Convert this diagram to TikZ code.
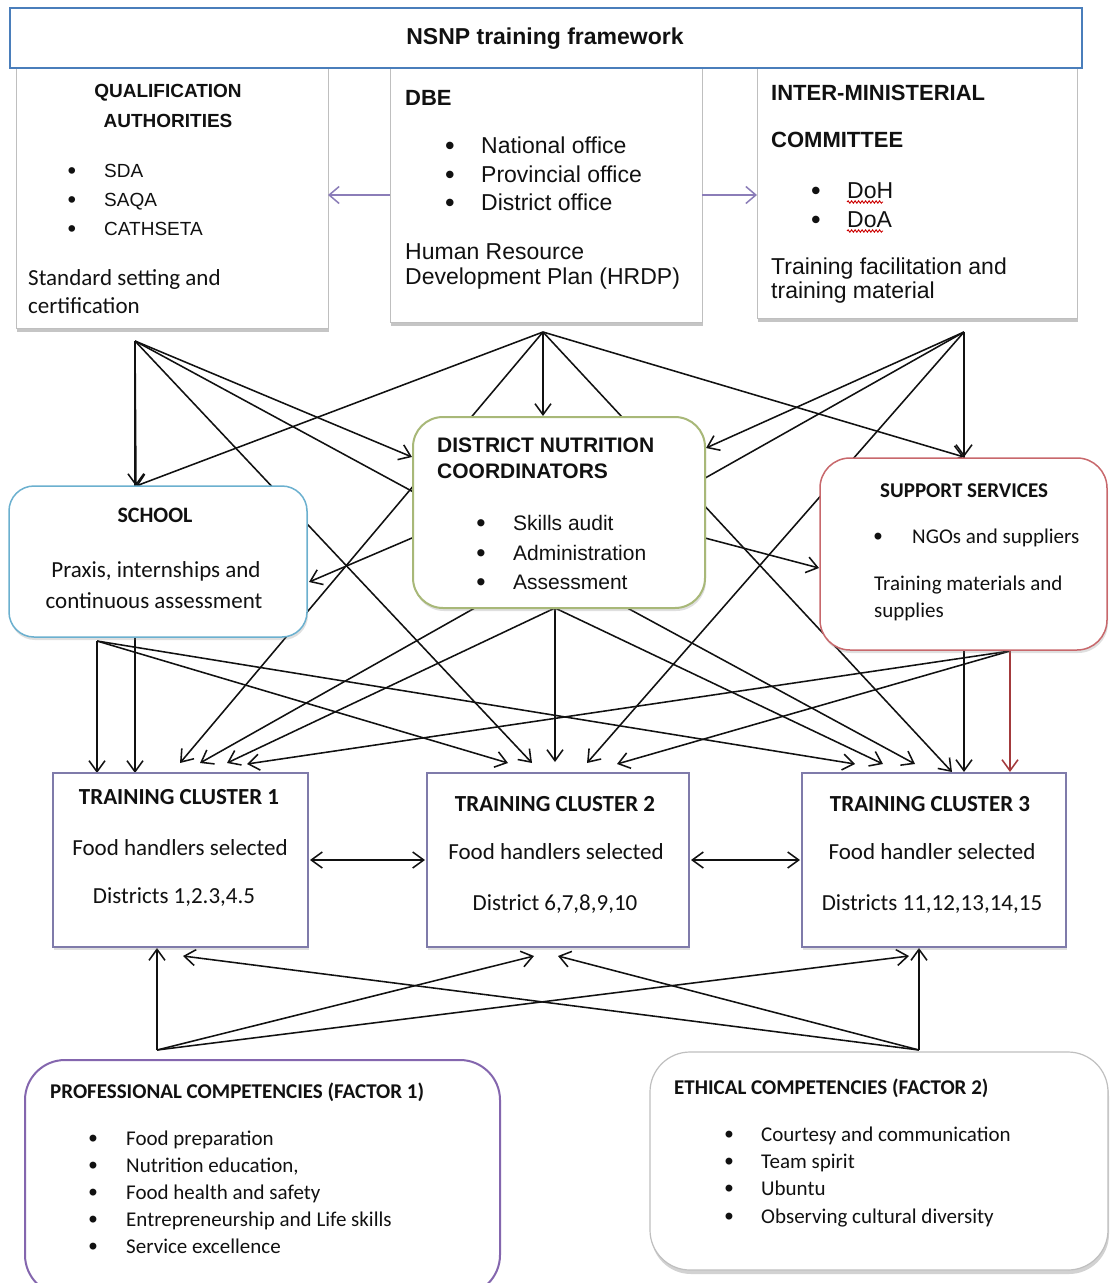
\documentclass[tikz,border=0pt]{standalone}
\usepackage{fontspec}
\setmainfont{Carlito}
\newfontfamily\arialf{Liberation Sans}
\usetikzlibrary{arrows.meta,shadows,decorations.pathmorphing}
\pgfdeclarelayer{back}
\pgfdeclarelayer{bg}
\pgfsetlayers{back,bg,main}
\definecolor{titleblue}{HTML}{4A7EBB}
\definecolor{schoolblue}{HTML}{6BB0CF}
\definecolor{dncgreen}{HTML}{A8B878}
\definecolor{supred}{HTML}{C8686C}
\definecolor{clpurple}{HTML}{7F7BAA}
\definecolor{profpurple}{HTML}{8466AE}
\definecolor{arpurple}{HTML}{8B7DB8}
\definecolor{arred}{HTML}{A33A3C}
\definecolor{txtc}{HTML}{111111}
\newcommand\arsz[1]{\arialf\fontsize{#1}{#1}\selectfont}
\newcommand\casz[1]{\fontsize{#1}{#1}\selectfont}
\begin{document}
\begin{tikzpicture}[x=1pt,y=-1pt,
  box/.style={draw, fill=white, inner sep=0pt, outer sep=0pt},
  topbox/.style={box, draw=black!25, line width=1pt, drop shadow={shadow xshift=1pt, shadow yshift=-4pt, opacity=.45}},
  softshadow/.style={drop shadow={shadow xshift=1pt, shadow yshift=-3pt, opacity=.25}},
  tx/.style={inner sep=0pt, anchor=base west, text=txtc},
  txc/.style={inner sep=0pt, anchor=base, text=txtc},
  bul/.style={inner sep=0pt, anchor=base, text=txtc, font=\arsz{#1}\bfseries},
  ar/.style={draw=txtc, line width=1.55pt, -{Straight Barb[length=11pt,width=16pt]}},
  dar/.style={draw=txtc, line width=1.55pt, {Straight Barb[length=11pt,width=16pt]}-{Straight Barb[length=11pt,width=16pt]}},
  par/.style={draw=arpurple, line width=1.5pt, -{Straight Barb[length=10pt,width=17pt]}},
  squig/.style={draw=red!80!black, line width=0.9pt, decorate, decoration={snake, amplitude=1.2pt, segment length=3.5pt}}
]
\begin{pgfonlayer}{back}
\fill[white] (0,0) rectangle (1110,1283);
\end{pgfonlayer}
\useasboundingbox (0,0) rectangle (1110,1283);

% ---------- top boxes ----------
\node[topbox, minimum width=312pt, minimum height=260pt] (qa) at (172,198) {};
\node[topbox, minimum width=312pt, minimum height=254pt] (dbe) at (546,195) {};
\node[topbox, minimum width=320pt, minimum height=250pt] (imc) at (917,193) {};
\node[box, draw=titleblue, line width=2.5pt, minimum width=1072pt, minimum height=60pt] (title) at (546,38) {};
\node[txc, font=\arsz{23}\bfseries] (titlet) at (545,44) {NSNP training framework};

% QA text
\node[txc, font=\arsz{19}\bfseries] (qah1) at (168,97) {QUALIFICATION};
\node[txc, font=\arsz{19}\bfseries] (qah2) at (168,127) {AUTHORITIES};
\node[bul=23] (qab1) at (72,178) {•};
\node[tx, font=\arsz{19}] (qai1) at (104,177) {SDA};
\node[bul=23] (qab2) at (72,207) {•};
\node[tx, font=\arsz{19}] (qai2) at (104,206) {SAQA};
\node[bul=23] (qab3) at (72,236) {•};
\node[tx, font=\arsz{19}] (qai3) at (104,235) {CATHSETA};
\node[tx, font=\casz{23}] (qat1) at (28,285) {Standard setting and};
\node[tx, font=\casz{23}] (qat2) at (28,313) {certification};

% DBE text
\node[tx, font=\arsz{22}\bfseries] (dbeh) at (405,105) {DBE};
\node[bul=26] (dbeb1) at (450,154) {•};
\node[tx, font=\arsz{23}] (dbei1) at (481,153) {National office};
\node[bul=26] (dbeb2) at (450,183) {•};
\node[tx, font=\arsz{23}] (dbei2) at (481,182) {Provincial office};
\node[bul=26] (dbeb3) at (450,211) {•};
\node[tx, font=\arsz{23}] (dbei3) at (481,210) {District office};
\node[tx, font=\arsz{23}] (dbet1) at (405,259) {Human Resource};
\node[tx, font=\arsz{23}] (dbet2) at (405,284) {Development Plan (HRDP)};

% IMC text
\node[tx, font=\arsz{22}\bfseries] (imch1) at (771,100) {INTER-MINISTERIAL};
\node[tx, font=\arsz{22}\bfseries] (imch2) at (771,147) {COMMITTEE};
\node[bul=26] (imcb1) at (816,199) {•};
\node[tx, font=\arsz{23}] (imci1) at (847,198) {DoH};
\node[bul=26] (imcb2) at (816,228) {•};
\node[tx, font=\arsz{23}] (imci2) at (847,227) {DoA};
\draw[squig] (imci1.base west) ++(0,4) -- ++(36,0);
\draw[squig] (imci2.base west) ++(0,4) -- ++(36,0);
\node[tx, font=\arsz{23}] (imct1) at (771,274) {Training facilitation and};
\node[tx, font=\arsz{23}] (imct2) at (771,298) {training material};

% ---------- middle boxes ----------
\node[box, draw=schoolblue, line width=1.5pt, rounded corners=25pt, softshadow, minimum width=298pt, minimum height=151pt] (school) at (158,561.5) {};
\node[txc, font=\casz{22}\bfseries] (sch1) at (155,522) {SCHOOL};
\node[txc, font=\casz{23}] (sch2) at (156,577) {Praxis, internships and};
\node[txc, font=\casz{23}] (sch3) at (154,608) {continuous assessment};

\node[box, draw=dncgreen, line width=2pt, rounded corners=30pt, softshadow, minimum width=292pt, minimum height=191pt] (dnc) at (559,512.5) {};
\node[tx, font=\arsz{21}\bfseries] (dnch1) at (437,452) {DISTRICT NUTRITION};
\node[tx, font=\arsz{21}\bfseries] (dnch2) at (437,478) {COORDINATORS};
\node[bul=25] (dncb1) at (481,531) {•};
\node[tx, font=\arsz{21}] (dnci1) at (513,530) {Skills audit};
\node[bul=25] (dncb2) at (481,561) {•};
\node[tx, font=\arsz{21}] (dnci2) at (513,560) {Administration};
\node[bul=25] (dncb3) at (481,590) {•};
\node[tx, font=\arsz{21}] (dnci3) at (513,589) {Assessment};

\node[box, draw=supred, line width=1.5pt, rounded corners=30pt, softshadow, minimum width=287pt, minimum height=192pt] (sup) at (963.5,554) {};
\node[tx, font=\casz{21}\bfseries] (suph) at (880,497) {SUPPORT SERVICES};
\node[bul=24] (supb1) at (878,544) {•};
\node[tx, font=\casz{21}] (supi1) at (912,543) {NGOs and suppliers};
\node[tx, font=\casz{21}] (supt1) at (874,590) {Training materials and};
\node[tx, font=\casz{21}] (supt2) at (874,617) {supplies};

% ---------- clusters ----------
\node[box, draw=clpurple, line width=1.5pt, softshadow, minimum width=255pt, minimum height=174pt] (tc1) at (180.5,860) {};
\node[box, draw=clpurple, line width=1.5pt, softshadow, minimum width=262pt, minimum height=174pt] (tc2) at (558,860) {};
\node[box, draw=clpurple, line width=1.5pt, softshadow, minimum width=264pt, minimum height=174pt] (tc3) at (934,860) {};
\node[txc, font=\casz{23}\bfseries] (tc1h) at (179,804) {TRAINING CLUSTER 1};
\node[txc, font=\casz{23}] (tc1a) at (180,855) {Food handlers selected};
\node[txc, font=\casz{23}] (tc1b) at (174,903) {Districts 1,2.3,4.5};
\node[txc, font=\casz{23}\bfseries] (tc2h) at (555,811) {TRAINING CLUSTER 2};
\node[txc, font=\casz{23}] (tc2a) at (556,859) {Food handlers selected};
\node[txc, font=\casz{23}] (tc2b) at (555,910) {District 6,7,8,9,10};
\node[txc, font=\casz{23}\bfseries] (tc3h) at (930,811) {TRAINING CLUSTER 3};
\node[txc, font=\casz{23}] (tc3a) at (932,859) {Food handler selected};
\node[txc, font=\casz{23}] (tc3b) at (932,910) {Districts 11,12,13,14,15};

% ---------- bottom boxes ----------
\node[box, draw=profpurple, line width=2pt, rounded corners=40pt, minimum width=475pt, minimum height=235pt] (prof) at (262.5,1177.5) {};
\node[tx, font=\casz{21}\bfseries] (profh) at (50,1098) {PROFESSIONAL COMPETENCIES (FACTOR 1)};
\node[bul=24] (pb1) at (93,1146) {•};
\node[tx, font=\casz{21}] (pi1) at (126,1145) {Food preparation};
\node[bul=24] (pb2) at (93,1173) {•};
\node[tx, font=\casz{21}] (pi2) at (126,1172) {Nutrition education,};
\node[bul=24] (pb3) at (93,1200) {•};
\node[tx, font=\casz{21}] (pi3) at (126,1199) {Food health and safety};
\node[bul=24] (pb4) at (93,1227) {•};
\node[tx, font=\casz{21}] (pi4) at (126,1226) {Entrepreneurship and Life skills};
\node[bul=24] (pb5) at (93,1254) {•};
\node[tx, font=\casz{21}] (pi5) at (126,1253) {Service excellence};

\node[box, draw=black!25, line width=1.2pt, rounded corners=40pt, drop shadow={shadow xshift=1pt, shadow yshift=-4pt, opacity=.35}, minimum width=458pt, minimum height=218pt] (eth) at (879,1161) {};
\node[tx, font=\casz{21}\bfseries] (ethh) at (674,1094) {ETHICAL COMPETENCIES (FACTOR 2)};
\node[bul=24] (eb1) at (729,1142) {•};
\node[tx, font=\casz{21}] (ei1) at (761,1141) {Courtesy and communication};
\node[bul=24] (eb2) at (729,1169) {•};
\node[tx, font=\casz{21}] (ei2) at (761,1168) {Team spirit};
\node[bul=24] (eb3) at (729,1196) {•};
\node[tx, font=\casz{21}] (ei3) at (761,1195) {Ubuntu};
\node[bul=24] (eb4) at (729,1224) {•};
\node[tx, font=\casz{21}] (ei4) at (761,1223) {Observing cultural diversity};

% ---------- connector points ----------
\coordinate (qO) at (135,341);
\coordinate (dO) at (543,332);
\coordinate (iO) at (964,332);
\coordinate (sO) at (97,641);
\coordinate (nO) at (555,608);
\coordinate (uO) at (1010,651);
\coordinate (pO) at (157,1050);
\coordinate (eO) at (919,1050);
\coordinate (sT) at (136,486);
\coordinate (nT) at (543,416);
\coordinate (nL) at (412,457);
\coordinate (nR) at (706,448);
\coordinate (uT) at (964,457);
\coordinate (nSl) at (412,538);
\coordinate (sR) at (309,582);
\coordinate (nSr) at (705,538);
\coordinate (uL) at (819,568);
\coordinate (c1a) at (97,773);
\coordinate (c1b) at (135,773);
\coordinate (c1c) at (180,763);
\coordinate (c1d) at (200,763);
\coordinate (c1e) at (227,763);
\coordinate (c1f) at (247,764);
\coordinate (c2a) at (508,763);
\coordinate (c2b) at (532,763);
\coordinate (c2c) at (555,762);
\coordinate (c2d) at (587,763);
\coordinate (c2e) at (617,764);
\coordinate (c3a) at (855,764);
\coordinate (c3b) at (883,764);
\coordinate (c3c) at (915,764);
\coordinate (c3d) at (952,772);
\coordinate (c3e) at (964,772);
\coordinate (c3f) at (1010,772);
\coordinate (b1a) at (157,948);
\coordinate (b1b) at (183,956);
\coordinate (b2a) at (534,956);
\coordinate (b2b) at (558,956);
\coordinate (b3a) at (909,956);
\coordinate (b3b) at (919,948);

% ---------- connectors (behind boxes) ----------
\begin{pgfonlayer}{bg}
% qualification authorities
\draw[ar] (qO) -- (sT);
\draw[ar] (qO) -- (c1b);
\draw[ar] (qO) -- (c2b);
\draw[ar] (qO) -- (nL);
\draw[ar] (qO) -- (c3c);
% DBE
\draw[ar] (dO) -- (sT);
\draw[ar] (dO) -- (nT);
\draw[ar] (dO) -- (c1c);
\draw[ar] (dO) -- (c3d);
\draw[ar] (dO) -- (uT);
% inter-ministerial committee
\draw[ar] (iO) -- (uT);
\draw[ar] (iO) -- (nR);
\draw[ar] (iO) -- (c1d);
\draw[ar] (iO) -- (c2d);
\draw[ar] (iO) -- (c3e);
% school
\draw[ar] (sO) -- (c1a);
\draw[ar] (sO) -- (c2a);
\draw[ar] (sO) -- (c3a);
% district nutrition coordinators
\draw[ar] (nO) -- (c1e);
\draw[ar] (nO) -- (c2c);
\draw[ar] (nO) -- (c3b);
\draw[ar] (nSl) -- (sR);
\draw[ar] (nSr) -- (uL);
% support services
\draw[ar] (uO) -- (c1f);
\draw[ar] (uO) -- (c2e);
\draw[ar, draw=arred] (uO) -- (c3f);
% competencies
\draw[ar] (pO) -- (b1a);
\draw[ar] (pO) -- (b2a);
\draw[ar] (pO) -- (b3a);
\draw[ar] (eO) -- (b3b);
\draw[ar] (eO) -- (b1b);
\draw[ar] (eO) -- (b2b);
\end{pgfonlayer}

% cluster links and DBE links
\draw[dar, shorten <=2pt, shorten >=2pt] (tc1.east) -- (tc2.west);
\draw[dar, shorten <=2pt, shorten >=2pt] (tc2.east) -- (tc3.west);
\draw[par] (dbe.west) -- (qa.east |- dbe.west);
\draw[par] (dbe.east) -- (imc.west |- dbe.east);
\end{tikzpicture}
\end{document}
